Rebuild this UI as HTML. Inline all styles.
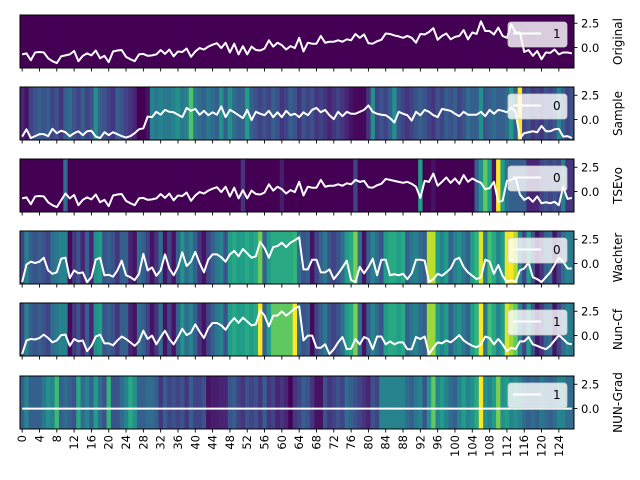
<!DOCTYPE html>
<html><head><meta charset="utf-8"><style>
body{margin:0;background:#fff;}
svg{display:block;font-family:"DejaVu Sans","Liberation Sans",sans-serif;}
</style></head><body>
<svg id="chart" width="640" height="480" viewBox="0 0 640 480" xmlns="http://www.w3.org/2000/svg"></svg>
<script>
const panelNames = ["Original","Sample","TSEvo","Wachter","Nun-Cf","NUN-Grad"];
const legendLabels = ["1","0","0","0","1","1"];
const xTickLabels = [0,4,8,12,16,20,24,28,32,36,40,44,48,52,56,60,64,68,72,76,80,84,88,92,96,100,104,108,112,116,120,124];
const yTickValues = [2.5,0.0];
const yTickLabels = ["2.5","0.0"];

const lineOriginal = [-0.7,-0.6,-1.3,-0.5,-0.45,-0.5,-1.1,-1.4,-1.6,-0.9,-0.8,-0.7,-0.35,-1.4,-0.85,-0.6,-0.8,-0.3,-1.1,-0.85,-1.5,-0.4,-0.3,-0.25,-0.95,-1.2,-1.4,-0.7,-0.65,-0.85,-0.8,-0.7,-0.25,-0.65,-0.2,-0.9,-0.4,-0.45,-0.1,-0.95,-0.4,-0.05,-0.2,0.1,0.3,0.45,-0.05,0.5,-0.5,0.4,-0.7,0.15,-0.7,0.1,-0.25,-0.3,-0.1,0.75,0.1,0.5,0.25,-0.2,0.15,-0.05,1.0,-0.4,0.5,0.4,0.4,1.2,0.5,0.6,0.6,0.75,0.6,0.85,0.75,1.4,1.0,1.35,0.45,0.4,0.65,0.8,1.45,1.4,1.25,1.15,1.0,1.2,1.0,0.5,1.4,1.35,1.6,2.0,0.8,1.2,1.45,0.85,1.1,1.2,1.8,0.85,1.55,1.4,2.7,1.7,1.7,1.35,2.05,1.2,1.0,2.4,1.55,1.55,-0.45,-0.25,-0.85,-0.35,-1.2,-0.5,-0.55,-0.2,-0.7,-0.5,-0.5,-0.6];
const lineSample = [-1.75,-1.0,-1.9,-1.7,-1.5,-1.5,-1.7,-0.95,-1.4,-1.15,-1.3,-1.7,-1.4,-1.2,-1.6,-1.2,-1.15,-1.75,-1.9,-1.3,-1.6,-1.3,-1.5,-1.7,-1.85,-1.7,-1.4,-1.0,-0.9,0.3,0.25,0.8,0.5,1.0,0.8,0.75,0.5,0.25,1.2,0.9,1.1,0.5,0.9,0.45,0.75,0.5,1.35,0.25,1.0,0.75,0.45,0.15,1.0,-0.05,0.8,0.6,0.45,0.9,0.25,0.75,0.25,0.9,0.45,0.6,0.25,0.75,0.45,1.0,1.2,0.75,1.0,0.45,0.05,0.8,0.35,0.8,0.6,0.6,0.8,1.0,1.45,0.8,0.6,0.5,0.45,0.15,-0.3,0.8,0.6,0.45,-0.1,0.8,0.45,1.0,0.8,0.45,0.25,1.1,1.0,0.9,0.6,0.35,0.8,0.5,0.5,0.5,0.8,0.35,1.0,0.6,1.0,0.9,0.75,1.25,0.8,-1.9,-1.4,-1.3,-1.2,-1.3,-0.65,-1.2,-1.2,-1.0,-0.95,-1.75,-1.7,-1.9];
const lineTSEvo = [-0.7,-0.6,-1.3,-0.5,-0.45,-0.5,-1.1,-1.4,-1.6,-0.9,-0.2,-0.7,-0.35,-1.4,-0.85,-0.6,-0.8,-0.3,-1.1,-0.85,-1.5,-0.4,-0.3,-0.25,-0.95,-1.2,-1.4,-0.7,-0.65,-0.85,-0.8,-0.7,-0.25,-0.65,-0.2,-0.9,-0.4,-0.45,-0.1,-0.95,-0.4,-0.05,-0.2,0.1,0.3,0.45,-0.05,0.5,-0.5,0.4,-0.7,0.15,-0.7,0.1,-0.25,-0.3,-0.1,0.75,0.1,0.5,0.25,-0.2,0.15,-0.05,1.0,-0.4,0.5,0.4,0.4,1.2,0.5,0.6,0.6,0.75,0.6,0.85,0.75,1.2,1.0,1.1,0.45,0.4,0.65,0.8,1.3,1.2,1.1,1.0,0.9,1.0,0.8,0.5,-0.65,1.1,1.0,1.85,0.6,1.0,1.45,0.9,1.35,0.8,1.7,1.0,1.35,1.1,0.9,0.25,0.35,1.0,-1.05,-0.95,1.1,1.2,1.45,-0.3,-0.85,-0.6,-1.05,-0.5,-1.2,-1.1,-1.2,-1.05,-1.4,0.5,-0.75,-0.65];
const lineWachter = [-1.9,-0.1,0.2,0.05,0.2,0.6,-0.7,-1.05,-0.9,0.5,0.6,-1.5,-0.7,-1.0,-0.9,-1.9,-1.4,0.4,0.6,-1.2,-1.15,-1.35,-0.7,0.3,-1.2,-1.4,-1.7,-1.05,1.0,-0.7,-0.4,-1.25,-0.7,0.95,-0.5,-1.2,-0.35,1.15,-0.25,0.2,1.2,0.05,-0.9,0.4,0.95,0.95,0.65,0.2,0.95,1.3,0.75,1.5,1.05,0.6,0.75,2.25,1.6,0.6,1.7,1.8,2.15,1.7,2.15,2.4,2.7,-0.6,-0.6,0.4,0.4,-0.9,-0.9,-0.6,-1.6,-1.05,-0.4,0.3,-1.7,-1.9,-0.35,-1.0,-0.35,0.5,-1.2,0.4,0.4,-1.2,-1.1,-1.2,-1.05,-1.6,-1.0,0.4,0.4,0.3,-1.9,-1.6,-1.05,-1.25,-0.9,-0.5,0.4,0.6,-0.35,-0.9,-1.25,-1.6,-1.4,0.4,0.2,-1.05,-0.15,-1.25,-1.9,-1.7,-1.9,-0.7,-0.5,0.1,-1.4,-1.6,-1.9,-1.4,-0.9,-0.15,0.6,0.2,-0.5,-0.5];
const lineNunCf = [-1.9,-0.5,-0.35,-0.4,-0.25,0.1,-0.25,-0.7,-0.5,0.05,0.1,-1.05,-0.35,-0.6,-0.5,-1.6,-1.05,-0.1,0.1,-0.8,-0.8,-1.0,-0.5,-0.1,-0.35,-0.7,-1.05,-0.6,0.5,-0.35,0.0,-0.9,-0.15,0.5,-0.35,-0.9,-0.15,0.7,0.05,0.3,1.15,0.4,-0.25,0.75,1.3,1.3,1.05,0.6,1.3,1.8,1.3,1.85,1.45,1.05,1.15,2.6,2.05,0.95,2.05,2.05,2.5,2.05,2.4,2.8,3.0,-0.5,0.0,0.0,-1.25,-1.25,-0.9,-1.9,-1.4,-0.7,-0.15,-1.4,-1.35,-0.35,-0.9,-0.15,-0.35,-1.4,-0.1,-0.1,-0.9,-0.6,-0.9,-0.7,-0.7,-1.4,-1.4,-0.15,-0.35,-0.1,-1.9,-1.25,-0.7,-0.8,-0.5,-0.7,-0.35,0.05,-0.5,-0.8,-1.05,-1.2,-0.9,-0.1,-0.25,-0.9,-0.35,-0.9,-1.6,-1.25,-1.4,-0.6,-0.6,-0.15,-0.9,-1.05,-1.25,-1.4,-1.05,-0.5,0.05,-0.35,-0.8,-0.9];
const lineNunGrad = [0,0,0,0,0,0,0,0,0,0,0,0,0,0,0,0,0,0,0,0,0,0,0,0,0,0,0,0,0,0,0,0,0,0,0,0,0,0,0,0,0,0,0,0,0,0,0,0,0,0,0,0,0,0,0,0,0,0,0,0,0,0,0,0,0,0,0,0,0,0,0,0,0,0,0,0,0,0,0,0,0,0,0,0,0,0,0,0,0,0,0,0,0,0,0,0,0,0,0,0,0,0,0,0,0,0,0,0,0,0,0,0,0,0,0,0,0,0,0,0,0,0,0,0,0,0,0,0];

const heatOriginal = [0,0,0,0,0,0,0,0,0,0,0,0,0,0,0,0,0,0,0,0,0,0,0,0,0,0,0,0,0,0,0,0,0,0,0,0,0,0,0,0,0,0,0,0,0,0,0,0,0,0,0,0,0,0,0,0,0,0,0,0,0,0,0,0,0,0,0,0,0,0,0,0,0,0,0,0,0,0,0,0,0,0,0,0,0,0,0,0,0,0,0,0,0,0,0,0,0,0,0,0,0,0,0,0,0,0,0,0,0,0,0,0,0,0,0,0,0,0,0,0,0,0,0,0,0,0,0,0];
const heatSample = [0.1,0.05,0.2,0.25,0.3,0.25,0.3,0.2,0.25,0.15,0.3,0.35,0.25,0.2,0.3,0.2,0.25,0.5,0.3,0.25,0.2,0.15,0.3,0.25,0.2,0.15,0.1,0.0,0.0,0.05,0.45,0.4,0.45,0.4,0.4,0.45,0.5,0.4,0.45,0.72,0.4,0.35,0.3,0.4,0.35,0.3,0.5,0.3,0.5,0.35,0.3,0.3,0.55,0.3,0.25,0.2,0.25,0.2,0.3,0.25,0.15,0.2,0.3,0.25,0.15,0.25,0.2,0.25,0.15,0.2,0.15,0.1,0.15,0.2,0.15,0.1,0.05,0.02,0.02,0.02,0.15,0.5,0.2,0.25,0.2,0.3,0.5,0.25,0.2,0.15,0.2,0.25,0.3,0.25,0.2,0.15,0.25,0.2,0.3,0.25,0.3,0.2,0.25,0.35,0.3,0.3,0.5,0.25,0.3,0.35,0.3,0.3,0.35,0.55,0.3,1.0,0.2,0.25,0.15,0.2,0.15,0.25,0.2,0.25,0.45,0.3,0.2,0.25];
const heatTSEvo = [0,0,0,0,0,0,0,0,0,0,0.35,0,0,0,0,0,0,0,0,0,0,0,0,0,0,0,0,0,0,0,0,0,0,0,0,0,0,0,0,0,0,0,0,0,0,0,0,0,0,0,0,0.15,0,0,0,0,0,0,0,0,0.08,0,0,0,0,0,0,0,0,0,0,0,0,0,0,0,0,0.2,0,0,0,0,0,0,0,0,0,0,0,0,0,0,0.55,0,0,0.05,0,0,0,0,0,0,0,0,0,0.3,0.5,0.75,0.55,0.05,1.0,0.55,0.35,0.3,0.3,0.3,0.3,0.1,0.1,0.1,0.2,0.25,0.2,0.25,0.2,0.45,0.15,0.15];
const heatWachter = [0.2,0.45,0.3,0.25,0.3,0.25,0.2,0.35,0.4,0.45,0.45,0.02,0.15,0.25,0.1,0.3,0.1,0.5,0.55,0.25,0.3,0.25,0.15,0.3,0.3,0.1,0.05,0.35,0.3,0.2,0.05,0.15,0.35,0.05,0.2,0.05,0.3,0.5,0.35,0.45,0.3,0.15,0.05,0.2,0.3,0.4,0.45,0.25,0.55,0.6,0.55,0.55,0.6,0.55,0.6,0.78,0.3,0.55,0.6,0.6,0.6,0.6,0.6,0.65,0.35,0.25,0.3,0.05,0.2,0.3,0.4,0.25,0.2,0.25,0.35,0.55,0.6,0.8,0.35,0.05,0.3,0.45,0.35,0.25,0.55,0.6,0.6,0.55,0.6,0.3,0.4,0.45,0.35,0.3,0.9,0.9,0.55,0.45,0.55,0.3,0.45,0.5,0.4,0.3,0.55,0.65,0.95,0.4,0.7,0.6,0.45,0.55,0.98,1.0,0.88,0.45,0.2,0.55,0.25,0.05,0.15,0.3,0.35,0.05,0.2,0.35,0.45,0.4];
const heatNunCf = [0.2,0.45,0.3,0.25,0.3,0.25,0.2,0.35,0.4,0.45,0.45,0.02,0.15,0.25,0.1,0.3,0.1,0.5,0.55,0.25,0.3,0.25,0.15,0.3,0.3,0.1,0.05,0.35,0.3,0.2,0.05,0.15,0.35,0.05,0.2,0.05,0.3,0.5,0.35,0.45,0.3,0.15,0.05,0.2,0.3,0.4,0.45,0.25,0.55,0.6,0.55,0.55,0.6,0.55,0.6,1.0,0.3,0.55,0.75,0.75,0.75,0.75,0.75,1.0,0.35,0.25,0.3,0.02,0.2,0.3,0.4,0.25,0.2,0.25,0.35,0.55,0.6,0.8,0.35,0.05,0.3,0.45,0.35,0.25,0.55,0.6,0.6,0.55,0.6,0.3,0.4,0.45,0.35,0.3,0.85,0.85,0.55,0.45,0.55,0.3,0.45,0.5,0.4,0.3,0.55,0.65,1.0,0.4,0.7,0.6,0.45,0.55,0.95,0.85,0.75,0.45,0.2,0.55,0.25,0.05,0.15,0.3,0.35,0.05,0.2,0.35,0.45,0.4];
const heatNunGrad = [0.3,0.45,0.3,0.3,0.3,0.4,0.5,0.45,0.68,0.3,0.35,0.3,0.25,0.6,0.35,0.45,0.3,0.55,0.35,0.25,0.65,0.25,0.25,0.35,0.45,0.6,0.5,0.3,0.3,0.35,0.35,0.3,0.15,0.3,0.2,0.25,0.2,0.25,0.15,0.3,0.2,0.2,0.25,0.05,0.08,0.08,0.1,0.1,0.25,0.3,0.2,0.15,0.25,0.2,0.25,0.15,0.3,0.15,0.2,0.1,0.15,0.1,0.0,0.15,0.2,0.3,0.25,0.15,0.05,0.05,0.25,0.15,0.2,0.25,0.2,0.35,0.3,0.25,0.2,0.15,0.1,0.25,0.2,0.45,0.45,0.45,0.45,0.45,0.45,0.35,0.3,0.4,0.45,0.25,0.5,0.75,0.45,0.55,0.45,0.35,0.3,0.45,0.55,0.45,0.5,0.6,1.0,0.5,0.45,0.55,0.8,0.5,0.55,0.45,0.5,0.45,0.35,0.3,0.35,0.3,0.4,0.35,0.3,0.35,0.45,0.45,0.35,0.35];

const lines = [lineOriginal,lineSample,lineTSEvo,lineWachter,lineNunCf,lineNunGrad];
const heats = [heatOriginal,heatSample,heatTSEvo,heatWachter,heatNunCf,heatNunGrad];

const NS = "http://www.w3.org/2000/svg";
const svg = document.getElementById('chart');
const L = 20, R = 574, H = 53;
const tops = [15,87,159,231,303,376];
const YMIN = -2.1, YMAX = 3.35, N = 128;
const xScale = i => L + (i + 0.5) * (R - L) / N;
const yScale = (v, top) => top + (YMAX - v) / (YMAX - YMIN) * H;

const VIR = [[68,1,84],[72,40,120],[62,74,137],[49,104,142],[38,130,142],[31,158,137],[53,183,121],[109,205,89],[180,222,44],[253,231,37]];
function viridis(t){
  t = Math.max(0, Math.min(1, t));
  const p = t * (VIR.length - 1), i = Math.min(VIR.length - 2, Math.floor(p)), f = p - i;
  const c = VIR[i].map((a, k) => Math.round(a + (VIR[i+1][k] - a) * f));
  return `rgb(${c[0]},${c[1]},${c[2]})`;
}
function mk(tag, attrs, parent){
  const e = document.createElementNS(NS, tag);
  for (const k in attrs) e.setAttribute(k, attrs[k]);
  (parent || svg).appendChild(e);
  return e;
}

const defs = mk('defs', {});
panelNames.forEach((name, p) => {
  const top = tops[p];
  const slug = name.toLowerCase().replace(/[^a-z0-9]+/g, '-');
  const g = mk('g', {});
  
  
  const cp = mk('clipPath', {id: 'clip' + p}, defs);
  mk('rect', {x: L, y: top, width: R - L, height: H}, cp);

  const hg = mk('g', {}, g);
  
  
  const cw = (R - L) / N;
  heats[p].forEach((v, i) => {
    const r = mk('rect', {x: (xScale(i) - cw / 2).toFixed(2), y: top, width: (cw + 0.4).toFixed(2), height: H, fill: viridis(v)}, hg);
    
    
  });

  const pts = lines[p].map((v, i) => xScale(i).toFixed(2) + ',' + yScale(v, top).toFixed(2)).join(' ');
  const pl = mk('polyline', {points: pts, fill: 'none', stroke: '#fff', 'stroke-width': 2, 'stroke-linejoin': 'round', 'clip-path': `url(#clip${p})`}, g);
  
  

  const fr = mk('rect', {x: L, y: top, width: R - L, height: H, fill: 'none', stroke: '#000', 'stroke-width': 1}, g);
  
  

  xTickLabels.forEach(t => {
    const x = xScale(t);
    mk('line', {x1: x, y1: top + H, x2: x, y2: top + H + 3.5, stroke: '#000', 'stroke-width': 0.9}, g);
    if (p === 5) {
      const tx = mk('text', {x: 0, y: 0, 'font-size': 11.5, 'text-anchor': 'end', 'dominant-baseline': 'central', transform: `translate(${x.toFixed(2)},${top + H + 6}) rotate(-90)`}, g);
      tx.textContent = t;
      
      
    }
  });
  yTickValues.forEach((v, k) => {
    const y = yScale(v, top);
    mk('line', {x1: R, y1: y, x2: R + 3.5, y2: y, stroke: '#000', 'stroke-width': 0.9}, g);
    const tx = mk('text', {x: R + 7, y: y + 4.2, 'font-size': 11.5}, g);
    tx.textContent = yTickLabels[k];
    
    
  });
  const yl = mk('text', {x: 0, y: 0, 'font-size': 12, 'text-anchor': 'middle', transform: `translate(${622},${top + H / 2}) rotate(-90)`}, g);
  yl.textContent = name;
  
  

  const lg = mk('g', {}, g);
  
  
  mk('rect', {x: 508, y: top + 7, width: 59, height: 25, rx: 3, fill: 'rgba(255,255,255,0.8)', stroke: '#ccc', 'stroke-width': 0.8}, lg);
  const le = mk('line', {x1: 513, y1: top + 18.5, x2: 541, y2: top + 18.5, stroke: '#fff', 'stroke-width': 2}, lg);
  
  
  const lt = mk('text', {x: 553, y: top + 23, 'font-size': 12}, lg);
  lt.textContent = legendLabels[p];
  
  
});
</script>
</body></html>
